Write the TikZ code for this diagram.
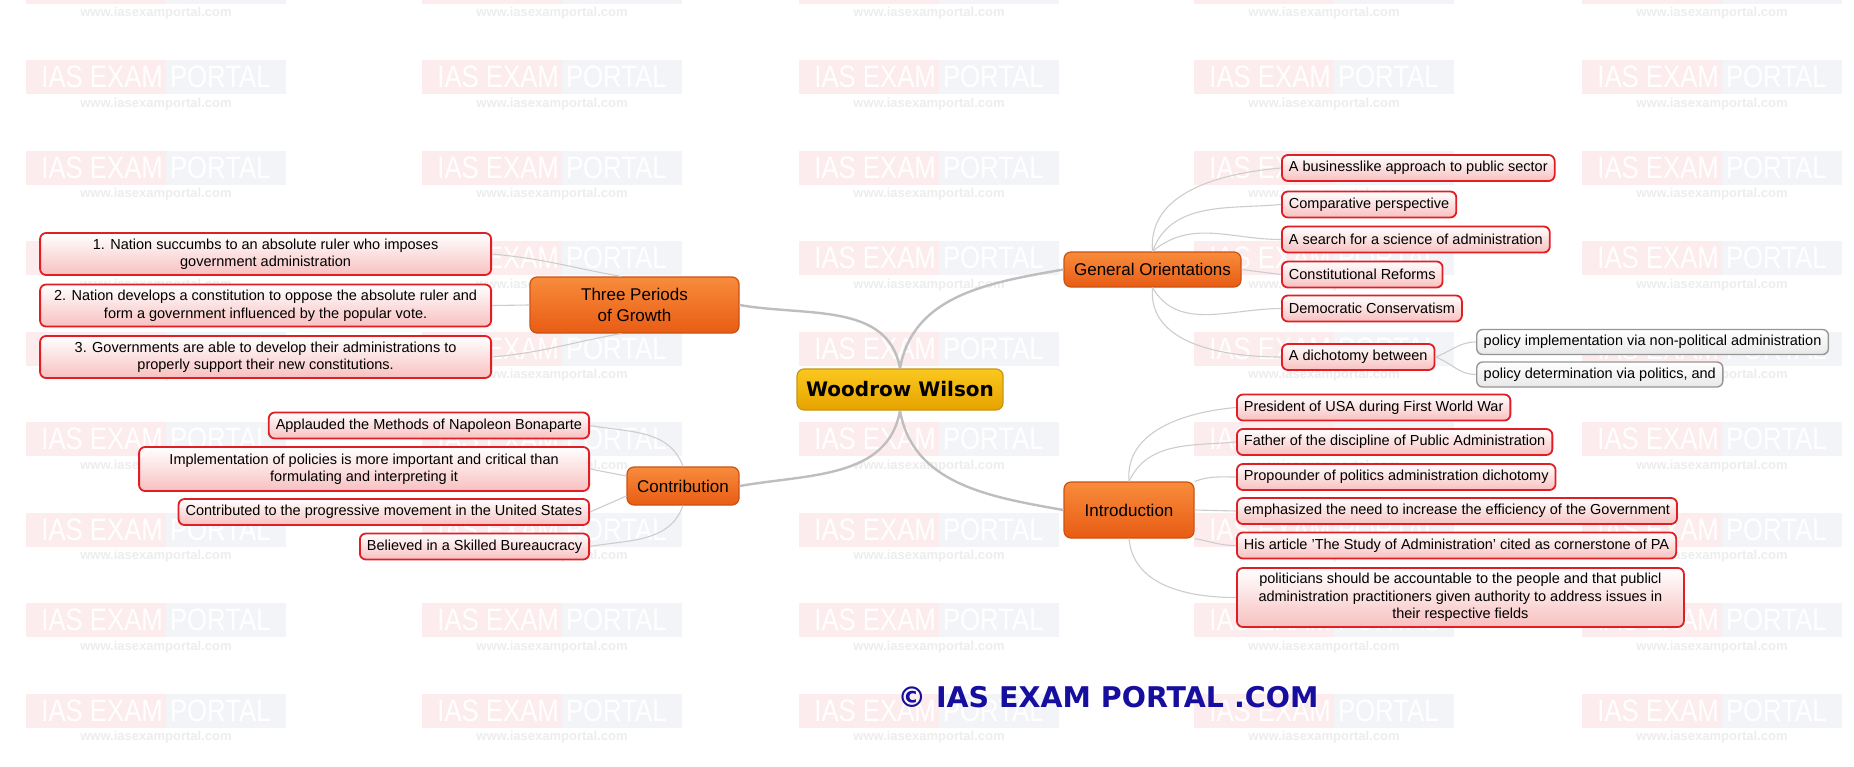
\documentclass[tikz,border=0pt]{standalone}
\usepackage{fontspec}
\setmainfont{Liberation Sans}
\newfontfamily\wideface{DejaVu Sans}

\definecolor{leafred}{RGB}{224,30,36}
\definecolor{leafpink}{RGB}{248,192,192}
\definecolor{pairgrey}{RGB}{150,150,150}
\definecolor{pairfill}{RGB}{232,232,232}
\definecolor{branchedge}{RGB}{205,82,18}
\definecolor{branchtop}{RGB}{248,140,60}
\definecolor{branchbot}{RGB}{232,92,20}
\definecolor{rootedge}{RGB}{200,150,20}
\definecolor{roottop}{RGB}{250,200,30}
\definecolor{rootbot}{RGB}{230,162,0}
\definecolor{limbgrey}{RGB}{190,190,190}
\definecolor{twiggrey}{RGB}{205,205,205}
\definecolor{markpink}{RGB}{252,236,238}
\definecolor{markgrey}{RGB}{243,244,248}
\definecolor{markurlgrey}{RGB}{237,237,237}
\definecolor{markblue}{RGB}{21,14,158}

\tikzset{
  leafbox/.style={draw=leafred, line width=1.8, rounded corners=6, top color=white, bottom color=leafpink,
    inner xsep=7, inner ysep=3, minimum height=26, align=center, font=\fontsize{14.5}{17.5}\selectfont},
  pairbox/.style={draw=pairgrey, line width=1.4, rounded corners=6, top color=white, bottom color=pairfill,
    inner xsep=7, inner ysep=3, minimum height=25, font=\fontsize{14.5}{17.5}\selectfont},
  branchbox/.style={draw=branchedge, line width=1.2, rounded corners=7, top color=branchtop, bottom color=branchbot,
    align=center, font=\fontsize{17}{21}\selectfont},
  rootbox/.style={draw=rootedge, line width=1.2, rounded corners=7, top color=roottop, bottom color=rootbot,
    font=\wideface\bfseries\fontsize{20}{24}\selectfont, minimum width=206, minimum height=41},
  limb/.style={draw=limbgrey, line width=2.4},
  twig/.style={draw=twiggrey, line width=1.1},
  markword/.style={text=white, font=\fontsize{31}{33}\selectfont, inner sep=0},
  markurl/.style={text=markurlgrey, font=\bfseries\fontsize{13}{15}\selectfont, inner sep=0}
}

\begin{document}
\begin{tikzpicture}[x=1pt, y=-1pt]
  \useasboundingbox (0,0) rectangle (1854,766);
  \fill [white] (0,0) rectangle (1854,766);

  % watermark
  \begin{scope}
    \clip (0,0) rectangle (1854,766);
    \foreach \wx in {156,552,929,1324,1712} {
      \foreach \k in {0,...,8} {
        \pgfmathsetmacro{\wy}{-13.5+90.5*\k}
        \fill [markpink] (\wx-130,\wy-17) rectangle (\wx+10,\wy+17);
        \fill [markgrey] (\wx+10,\wy-17) rectangle (\wx+130,\wy+17);
        \ifnum\k>0
          \node [markword] (wm\wx x\k) at (\wx,\wy) {\scalebox{0.83}[1]{IAS EXAM PORTAL}};
        \fi
        \node [markurl] (wu\wx x\k) at (\wx,\wy+27) {www.iasexamportal.com};
      }
    }
  \end{scope}

  \node [rootbox] (ww) at (900,389.5) {Woodrow Wilson}; % centre

  \node [branchbox, minimum width=209, minimum height=56] (tp) at (634.5,305) {Three Periods\\of Growth};
  \node [branchbox, minimum width=112, minimum height=38] (con) at (683,486) {Contribution};
  \node [branchbox, minimum width=177, minimum height=35] (go) at (1152.5,269.5) {General Orientations};
  \node [branchbox, minimum width=130, minimum height=56] (intro) at (1129,510) {Introduction};

  \node [leafbox, anchor=east, minimum width=451, minimum height=42] (l1) at (492,254) {1. Nation succumbs to an absolute ruler who imposes\\government administration};
  \node [leafbox, anchor=east, minimum width=451, minimum height=42] (l2) at (492,305.5) {2. Nation develops a constitution to oppose the absolute ruler and\\form a government influenced by the popular vote.};
  \node [leafbox, anchor=east, minimum width=451, minimum height=42] (l3) at (492,357) {3. Governments are able to develop their administrations to\\properly support their new constitutions.};

  \node [leafbox, anchor=east] (c1) at (590,425.5) {Applauded the Methods of Napoleon Bonaparte};
  \node [leafbox, anchor=east, minimum width=450, minimum height=44] (c2) at (590,469) {Implementation of policies is more important and critical than\\formulating and interpreting it};
  \node [leafbox, anchor=east] (c3) at (590,512) {Contributed to the progressive movement in the United States};
  \node [leafbox, anchor=east] (c4) at (590,546.5) {Believed in a Skilled Bureaucracy};

  \node [leafbox, anchor=west] (g1) at (1281,168) {A businesslike approach to public sector};
  \node [leafbox, anchor=west] (g2) at (1281,204.5) {Comparative perspective};
  \node [leafbox, anchor=west] (g3) at (1281,239.5) {A search for a science of administration};
  \node [leafbox, anchor=west] (g4) at (1281,274.5) {Constitutional Reforms};
  \node [leafbox, anchor=west] (g5) at (1281,308.5) {Democratic Conservatism};
  \node [leafbox, anchor=west] (g6) at (1281,357) {A dichotomy between};

  \node [pairbox, anchor=west] (d1) at (1476,342) {policy implementation via non-political administration};
  \node [pairbox, anchor=west] (d2) at (1476,374.5) {policy determination via politics, and};

  \node [leafbox, anchor=west] (i1) at (1236,407.5) {President of USA during First World War};
  \node [leafbox, anchor=west] (i2) at (1236,442) {Father of the discipline of Public Administration};
  \node [leafbox, anchor=west] (i3) at (1236,477) {Propounder of politics administration dichotomy};
  \node [leafbox, anchor=west] (i4) at (1236,511) {emphasized the need to increase the efficiency of the Government};
  \node [leafbox, anchor=west] (i5) at (1236,545.5) {His article 'The Study of Administration' cited as cornerstone of PA};
  \node [leafbox, anchor=west, minimum width=447, minimum height=59] (i6) at (1236,597.5) {politicians should be accountable to the people and that publicl\\administration practitioners given authority to address issues in\\their respective fields};

  \node [font=\wideface\bfseries\fontsize{28.5}{32}\selectfont, text=markblue] (mark) at (1108,697) {© IAS EXAM PORTAL .COM};

  % main branches
  \draw [limb] (ww.north) to [out=100,in=-10] (tp.east);
  \draw [limb] (ww.north) to [out=80,in=190] (go.west);
  \draw [limb] (ww.south) to [out=-100,in=10] (con.east);
  \draw [limb] (ww.south) to [out=-80,in=170] (intro.west);

  \draw [twig] (tp.115) to [out=170,in=-5] (l1.east);
  \draw [twig] (tp.west) -- (l2.east);
  \draw [twig] (tp.245) to [out=190,in=5] (l3.east);

  \draw [twig] (con.north) to [out=110,in=-10] (c1.east);
  \draw [twig] (con.170) -- (c2.east);
  \draw [twig] (con.190) -- (c3.east);
  \draw [twig] (con.south) to [out=-110,in=10] (c4.east);

  \draw [twig] (go.north) to [out=95,in=185] (g1.west);
  \draw [twig] (go.north) to [out=70,in=185] (g2.west);
  \draw [twig] (go.north) to [out=40,in=180] (g3.west);
  \draw [twig] (go.east) -- (g4.west);
  \draw [twig] (go.south) to [out=-60,in=180] (g5.west);
  \draw [twig] (go.south) to [out=-95,in=180] (g6.west);

  \draw [twig] (g6.east) to [out=20,in=180] (d1.west);
  \draw [twig] (g6.east) to [out=-20,in=180] (d2.west);

  \draw [twig] (intro.north) to [out=95,in=185] (i1.west);
  \draw [twig] (intro.north) to [out=65,in=185] (i2.west);
  \draw [twig] (intro.north east) to [out=20,in=180] (i3.west);
  \draw [twig] (intro.east) -- (i4.west);
  \draw [twig] (intro.south east) to [out=-10,in=180] (i5.west);
  \draw [twig] (intro.south) to [out=-85,in=180] (i6.west);
\end{tikzpicture}
\end{document}
